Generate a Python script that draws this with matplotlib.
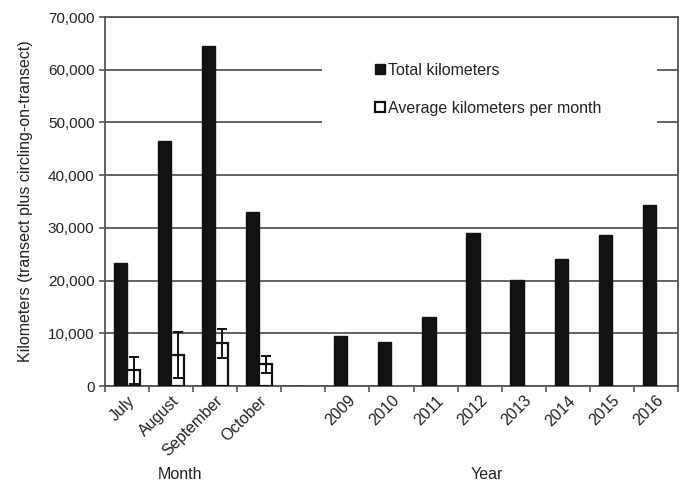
import matplotlib
matplotlib.use("Agg")
import matplotlib.pyplot as plt
import matplotlib.transforms as mtransforms
from matplotlib.patches import Rectangle, Patch
from matplotlib.ticker import FuncFormatter, FixedLocator
import numpy as np

plt.rcParams['font.family'] = ['Liberation Sans', 'DejaVu Sans']

# categories: four months, an empty slot, then eight years
labels = ['July', 'August', 'September', 'October', '',
          '2009', '2010', '2011', '2012', '2013', '2014', '2015', '2016']
total_km = [23300, 46500, 64500, 33000, 0,
            9500, 8350, 13000, 29100, 20100, 24100, 28600, 34300]
avg_km = [3000, 5900, 8100, 4100]
avg_err = [2550, 4400, 2800, 1580]

x = np.arange(len(labels))
w = 0.3
grid_c = '#555555'
txt_c = '#222222'
fs = 11.5

fig = plt.figure(figsize=(6.84, 4.83), dpi=100)
ax = fig.add_axes([0.1535, 0.2008, 0.8377, 0.764])

ax.bar(x - w / 2, total_km, w, color='#111111', edgecolor='#111111', zorder=3)
ax.bar(x[:4] + w / 2, avg_km, w, color='white', edgecolor='#111111',
       linewidth=1.6, zorder=3)
ax.errorbar(x[:4] + w / 2, avg_km, yerr=avg_err, fmt='none', ecolor='#111111',
            elinewidth=1.4, capsize=3.5, capthick=1.4, zorder=4)

ax.set_ylim(0, 70000)
ax.set_xlim(-0.5, len(labels) - 0.5)
ax.set_yticks(np.arange(0, 70001, 10000))
ax.yaxis.set_major_formatter(FuncFormatter(lambda v, p: f'{int(v):,}'))
ax.yaxis.grid(True, color=grid_c, linewidth=1.3, zorder=0)
ax.set_axisbelow(True)

# white block behind the legend hides the gridlines there
blend = mtransforms.blended_transform_factory(ax.transAxes, ax.transData)
ax.add_patch(Rectangle((0.379, 45000), 0.585, 21000, transform=blend,
                       facecolor='white', edgecolor='none', zorder=1))

ax.set_xticks(x)
ax.set_xticklabels(labels, rotation=45, ha='right', rotation_mode='anchor',
                   fontsize=fs)
ax.tick_params(axis='x', which='major', length=0, pad=5)
ax.xaxis.set_minor_locator(FixedLocator(np.arange(-0.5, len(labels), 1.0)))
ax.tick_params(axis='x', which='minor', length=4, width=1.2, color=grid_c)
ax.tick_params(axis='y', length=4, width=1.2, color=grid_c, labelsize=11,
               labelcolor=txt_c)
ax.tick_params(axis='x', labelcolor=txt_c)

for s in ax.spines.values():
    s.set_color(grid_c)
    s.set_linewidth(1.3)

ax.set_ylabel('Kilometers (transect plus circling-on-transect)', fontsize=fs,
              color=txt_c)
ax.yaxis.set_label_coords(-0.126, 0.5)

ax.text(0.131, -0.241, 'Month', transform=ax.transAxes, ha='center',
        va='center', fontsize=fs, color=txt_c)
ax.text(0.667, -0.241, 'Year', transform=ax.transAxes, ha='center',
        va='center', fontsize=fs, color=txt_c)

handles = [Patch(facecolor='#111111', edgecolor='#111111'),
           Patch(facecolor='white', edgecolor='#111111', linewidth=1.6)]
ax.legend(handles, ['Total kilometers', 'Average kilometers per month'],
          loc='upper left', bbox_to_anchor=(0.447, 0.915), frameon=False,
          handlelength=0.6, handleheight=0.6, handletextpad=0.2,
          labelspacing=1.45, fontsize=fs, labelcolor=txt_c)

fig.savefig('out.png', dpi=100)
